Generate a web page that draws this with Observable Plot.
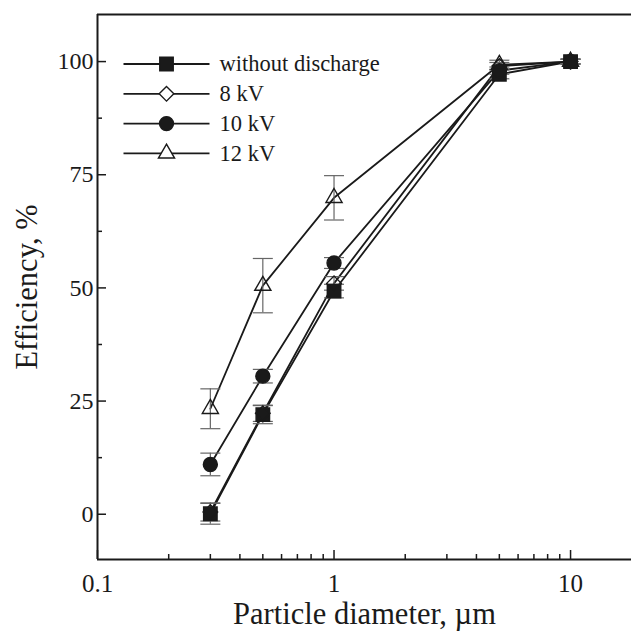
<!DOCTYPE html>
<html><head><meta charset="utf-8">
<script src="https://cdn.jsdelivr.net/npm/d3@7"></script>
<script src="https://cdn.jsdelivr.net/npm/@observablehq/plot@0.6"></script>
<style>
html,body{margin:0;padding:0;background:#fff}
svg{display:block}
</style>
</head><body><div id="chart"></div>
<script>
// ---- data ----
const diameters = [0.3, 0.5, 1, 5, 10];
const seriesNames = ["without discharge", "8 kV", "10 kV", "12 kV"];
const effWithout = [0.1, 22, 49.3, 97.2, 100];
const errWithout = [2.3, 2, 1.5, 1, 0.6];
const eff8kV = [0.5, 22.3, 51, 99, 100];
const err8kV = [2, 1.8, 1.5, 0.8, 0.5];
const eff10kV = [11, 30.5, 55.5, 98, 100];
const err10kV = [2.5, 1.5, 1.2, 0.8, 0.5];
const eff12kV = [23.3, 50.5, 69.9, 99.3, 100];
const err12kV = [4.4, 6, 4.9, 1, 0.5];
const xTicks = [0.1, 1, 10];
const xTickLabels = ["0.1", "1", "10"];
const xMinorTicks = [0.2, 0.3, 0.4, 0.5, 0.6, 0.7, 0.8, 0.9, 2, 3, 4, 5, 6, 7, 8, 9];
const yTicks = [0, 25, 50, 75, 100];
const yMinorTicks = [12.5, 37.5, 62.5, 87.5];
const xDomain = [0.1, 18.1];
const yDomain = [-10, 110.4];
const xTitle = "Particle diameter, \u00b5m";
const yTitle = "Efficiency, %";

// ---- styles ----
const effs = [effWithout, eff8kV, eff10kV, eff12kV];
const errs = [errWithout, err8kV, err10kV, err12kV];
const symbols = ["square", "diamond2", "circle", "triangle"];
const filled = [true, false, true, false];
const radii = [7.6, 6.6, 7, 6];
const ink = "#1a1a1a";
const serif = "Liberation Serif";

const rows = [];
seriesNames.forEach((s, i) => diameters.forEach((d, j) => rows.push({series: s, x: d, y: effs[i][j], err: errs[i][j], k: i})));
const caps = rows.flatMap(d => [{x: d.x, y: d.y - d.err}, {x: d.x, y: d.y + d.err}]);

const capSymbol = {draw(c) { c.moveTo(-10, 0); c.lineTo(10, 0); }};
const legendLine = {draw(c) { c.moveTo(-43, 0); c.lineTo(43, 0); }};
const blank = () => "";

const marks = [
  Plot.ruleX([xDomain[0]], {stroke: ink, strokeWidth: 2}),
  Plot.ruleY([yDomain[0], yDomain[1]], {stroke: ink, strokeWidth: 2}),
  // inward ticks
  Plot.axisX(xTicks, {tickSize: 9, dy: -9, tickFormat: blank, label: null, color: ink, strokeWidth: 1.5}),
  Plot.axisX(xMinorTicks, {tickSize: 5, dy: -5, tickFormat: blank, label: null, color: ink, strokeWidth: 1.5}),
  Plot.axisY(yTicks, {tickSize: 9, dx: 9, tickFormat: blank, label: null, color: ink, strokeWidth: 1.5}),
  Plot.axisY(yMinorTicks, {tickSize: 5, dx: 5, tickFormat: blank, label: null, color: ink, strokeWidth: 1.5}),
  // tick labels
  Plot.axisX(xTicks, {tickSize: 0, tickPadding: 15, tickFormat: d => xTickLabels[xTicks.indexOf(d)], fontSize: 25, fontFamily: serif, label: null, color: ink}),
  Plot.axisY(yTicks, {tickSize: 0, tickPadding: 4, fontSize: 24, fontFamily: serif, label: null, color: ink}),
  // titles
  Plot.text([xTitle], {text: d => d, frameAnchor: "bottom", dy: 55, lineAnchor: "middle", fontSize: 30.5, fontFamily: serif, fill: ink}),
  Plot.text([yTitle], {text: d => d, frameAnchor: "left", dx: -70, rotate: -90, textAnchor: "middle", lineAnchor: "middle", fontSize: 30.5, fontFamily: serif, fill: ink}),
  // data
  Plot.line(rows, {x: "x", y: "y", z: "series", stroke: ink, strokeWidth: 1.8}),
  Plot.ruleX(rows, {x: "x", y1: d => d.y - d.err, y2: d => d.y + d.err, stroke: "#666", strokeWidth: 1.2}),
  Plot.dot(caps, {x: "x", y: "y", symbol: capSymbol, stroke: "#666", strokeWidth: 1.2})
];

seriesNames.forEach((s, i) => {
  marks.push(Plot.dot(rows.filter(d => d.k === i), {
    x: "x", y: "y", symbol: symbols[i], r: radii[i],
    fill: filled[i] ? ink : "none", stroke: ink, strokeWidth: 1.4
  }));
  const dy = 49.5 + i * 29.8;
  marks.push(Plot.dot([s], {frameAnchor: "top-left", dx: 69, dy, symbol: legendLine, stroke: ink, strokeWidth: 1.8}));
  marks.push(Plot.dot([s], {frameAnchor: "top-left", dx: 69, dy, symbol: symbols[i], r: radii[i], fill: filled[i] ? ink : "white", stroke: ink, strokeWidth: 1.4}));
  marks.push(Plot.text([s], {text: d => d, frameAnchor: "top-left", dx: 122, dy, textAnchor: "start", lineAnchor: "middle", fontSize: 22.5, fontFamily: serif, fill: ink}));
});

const chart = Plot.plot({
  width: 631, height: 631,
  marginLeft: 97, marginRight: 0, marginTop: 14, marginBottom: 72,
  x: {type: "log", domain: xDomain},
  y: {domain: yDomain},
  style: {fontFamily: "'Liberation Serif', serif", background: "white"},
  marks
});
document.getElementById("chart").appendChild(chart);
</script>
</body></html>
